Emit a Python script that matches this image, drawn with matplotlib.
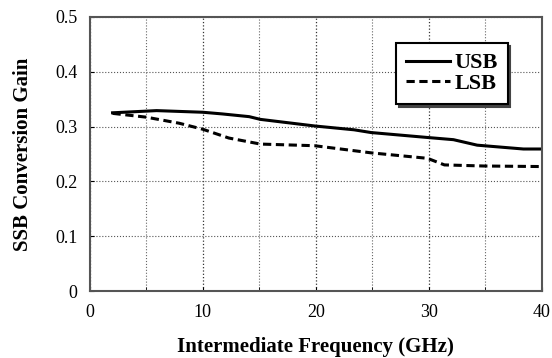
import matplotlib.pyplot as plt
from matplotlib.ticker import MultipleLocator

# values
usb_f = [2, 5.9, 10, 11.7, 14.1, 15.1, 19.9, 23.4, 24.9, 29.9, 32.2, 34.3, 38.4, 40]
usb_g = [0.325, 0.329, 0.326, 0.323, 0.318, 0.313, 0.301, 0.294, 0.289, 0.280, 0.276, 0.266, 0.259, 0.259]
lsb_f = [2, 5.0, 7.9, 10.0, 12.3, 15.1, 19.9, 24.9, 29.9, 31.4, 34.9, 40]
lsb_g = [0.324, 0.317, 0.306, 0.295, 0.279, 0.268, 0.265, 0.252, 0.242, 0.230, 0.228, 0.227]
x_ticks = [0, 10, 20, 30, 40]
y_ticks = [0, 0.1, 0.2, 0.3, 0.4, 0.5]

plt.rcParams['font.family'] = ['Liberation Serif', 'DejaVu Serif']

fig = plt.figure(figsize=(5.52, 3.58), dpi=100)
ax = fig.add_axes([0.163, 0.187, 0.818, 0.766])

ax.plot(usb_f, usb_g, '-', color='black', lw=2.2, label='USB')
ax.plot(lsb_f, lsb_g, '--', color='black', lw=2.2, dashes=(2.7, 1.5), label='LSB')

ax.set_xlim(0, 40)
ax.set_ylim(0, 0.5)
ax.set_xticks(x_ticks)
ax.set_yticks(y_ticks)
ax.set_yticklabels(['0', '0.1', '0.2', '0.3', '0.4', '0.5'])
ax.xaxis.set_minor_locator(MultipleLocator(5))
ax.grid(True, which='major', axis='x', ls=':', color='#333333', lw=0.9)
ax.grid(True, which='minor', axis='x', ls=':', color='#666666', lw=0.8)
ax.grid(True, which='major', axis='y', ls=':', color='#555555', lw=0.8)
ax.tick_params(which='both', direction='in', length=3, labelsize=13, pad=9)
for s in ax.spines.values():
    s.set_linewidth(1.5)
    s.set_color('#555555')

ax.set_xlabel('Intermediate Frequency (GHz)', fontsize=15, fontweight='bold', labelpad=12)
ax.set_ylabel('SSB Conversion Gain', fontsize=15, fontweight='bold', labelpad=16)

leg = ax.legend(loc='upper right', bbox_to_anchor=(0.925, 0.905), borderaxespad=0,
                fancybox=False, shadow={'ox': 2, 'oy': -2, 'color': '#444444', 'alpha': 1},
                edgecolor='black', framealpha=1,
                prop={'size': 16, 'weight': 'bold'}, handlelength=1.95,
                handletextpad=0.2, borderpad=0.45, labelspacing=0.0)
leg.get_frame().set_linewidth(1.5)

fig.savefig('out.png', dpi=100)
